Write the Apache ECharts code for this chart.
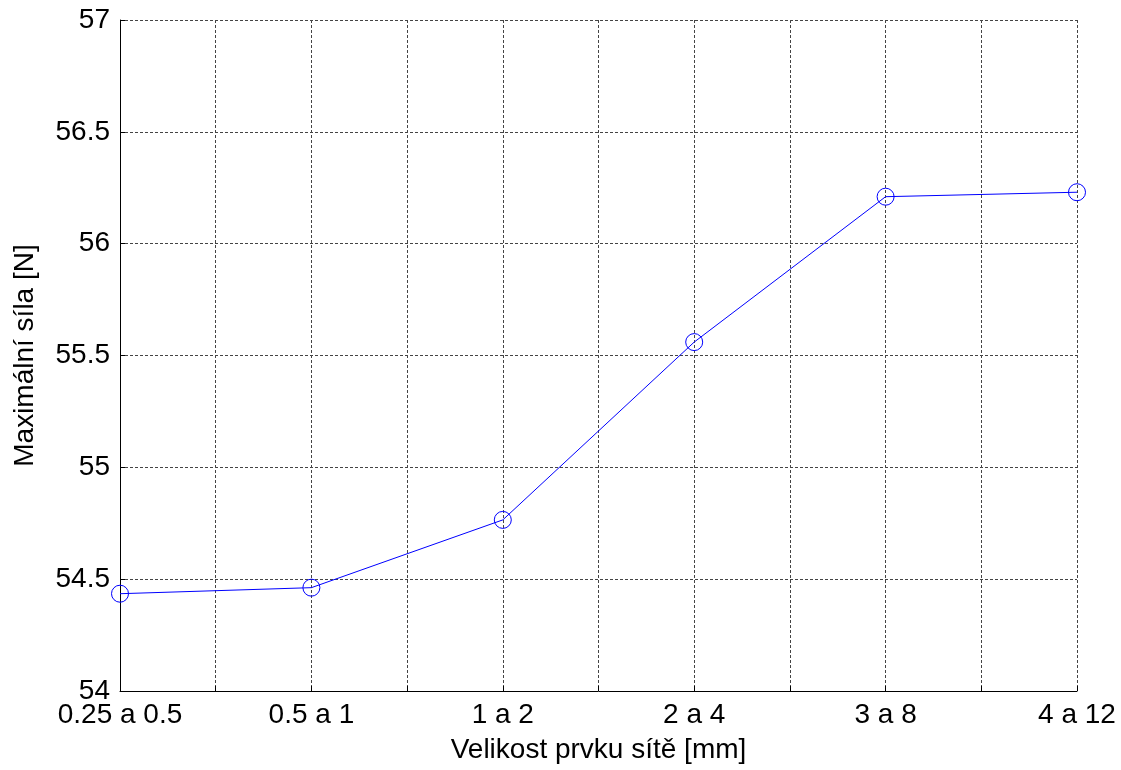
<!DOCTYPE html>
<html>
<head>
<meta charset="utf-8">
<script src="https://cdn.jsdelivr.net/npm/echarts@6/dist/echarts.min.js"></script>
<style>
  html, body { margin: 0; padding: 0; background: #fff; }
  #chart { width: 1121px; height: 770px; }
</style>
</head>
<body>
<div id="chart"></div>
<script>
// Mesh element size ranges and the resulting maximum force
const categories = ['0.25 a 0.5', '0.5 a 1', '1 a 2', '2 a 4', '3 a 8', '4 a 12'];
const maxForce = [54.435, 54.462, 54.765, 55.56, 56.21, 56.23];
const yTicks = [54, 54.5, 55, 55.5, 56, 56.5, 57];

const font = 'Liberation Sans, Arial, sans-serif';
const seriesData = maxForce.map((v, i) => [i, v]);

const chart = echarts.init(document.getElementById('chart'));
chart.setOption({
  animation: false,
  backgroundColor: '#ffffff',
  grid: { left: 120, right: 44, top: 20, bottom: 79 },
  xAxis: {
    type: 'value',
    min: 0,
    max: categories.length - 1,
    interval: 0.5,
    name: 'Velikost prvku sítě [mm]',
    nameLocation: 'middle',
    nameGap: 45,
    nameTextStyle: { fontFamily: font, fontSize: 28, color: '#000' },
    axisLine: { show: true, onZero: false, lineStyle: { color: '#000', width: 1 } },
    axisTick: { show: true, inside: true, length: 5, lineStyle: { color: '#000' } },
    axisLabel: {
      fontFamily: font, fontSize: 28, color: '#000', margin: 10,
      formatter: v => Number.isInteger(v) ? categories[v] : ''
    },
    splitLine: { show: true, lineStyle: { color: '#444', type: [3, 2], width: 1 } }
  },
  yAxis: {
    type: 'value',
    min: yTicks[0],
    max: yTicks[yTicks.length - 1],
    interval: 0.5,
    name: 'Maximální síla [N]',
    nameLocation: 'middle',
    nameGap: 81,
    nameRotate: 90,
    nameTextStyle: { fontFamily: font, fontSize: 28, color: '#000' },
    axisLine: { show: true, lineStyle: { color: '#000', width: 1 } },
    axisTick: { show: true, inside: true, length: 5, lineStyle: { color: '#000' } },
    axisLabel: {
      fontFamily: font, fontSize: 28, color: '#000', margin: 10,
      formatter: v => String(v)
    },
    splitLine: { show: true, lineStyle: { color: '#444', type: [3, 2], width: 1 } }
  },
  series: [{
    type: 'line',
    data: seriesData,
    symbol: 'circle',
    symbolSize: 17,
    showAllSymbol: true,
    lineStyle: { color: '#0000ff', width: 1 },
    itemStyle: { color: 'rgba(0,0,0,0)', borderColor: '#0000ff', borderWidth: 1 },
    z: 5
  }]
});
</script>
</body>
</html>
